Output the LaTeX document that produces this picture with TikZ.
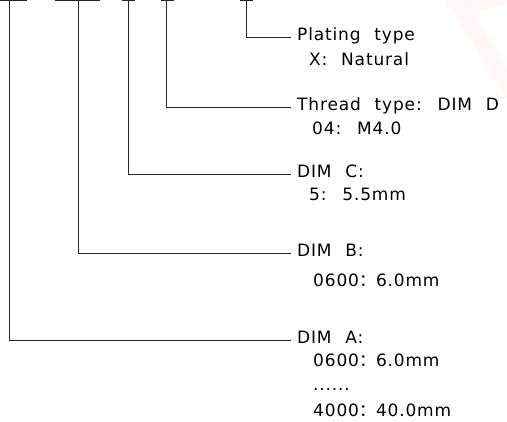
\documentclass[tikz,border=0pt]{standalone}
\usepackage{fontspec}
\setmainfont{DejaVu Sans}[WordSpace=2.2, LetterSpace=5]
\newfontfamily\cjk{Noto Sans CJK SC}
\newcommand{\wcolon}{{\cjk ：}}
\usetikzlibrary{positioning}

\begin{document}
\begin{tikzpicture}[x=1pt, y=-1pt,
  lead/.style={draw=black!85, line width=0.9pt},
  head/.style={anchor=west, inner sep=0pt, font=\fontsize{17}{19}\selectfont,
               text height=0.9em, text depth=0.2em},
  detail/.style={head}
]
  \useasboundingbox (0,0) rectangle (507,422);
  % faint watermark
  \fill[red!3] (446,0) -- (507,0) -- (507,5) -- (473,12) -- (507,68) -- (507,100) -- cycle;

  % part number bars
  \draw[lead] (0,0.5) -- (27,0.5);
  \draw[lead] (55,0.5) -- (100,0.5);
  \draw[lead] (122,0.5) -- (135,0.5);
  \draw[lead] (161,0.5) -- (174,0.5);
  \draw[lead] (240,0.5) -- (253,0.5);
  \coordinate (pA) at (9,0.5);
  \coordinate (pB) at (78,0.5);
  \coordinate (pC) at (128,0.5);
  \coordinate (pD) at (166,0.5);
  \coordinate (pX) at (246,0.5);

  % labels
  \node[head] (plate) at (297,37) {Plating type};
  \node[detail] (plate1) at (309,62) {X: Natural};
  \node[head] (thread) at (297,107) {Thread type: DIM D};
  \node[detail] (thread1) at (312,131) {04: M4.0};
  \node[head] (dimC) at (297,174) {DIM C:};
  \node[detail] (dimC1) at (309,197) {5: 5.5mm};
  \node[head] (dimB) at (297,253) {DIM B:};
  \node[detail] (dimB1) at (313,283) {0600\wcolon6.0mm};
  \node[head] (dimA) at (297,340) {DIM A:};
  \node[detail] (dimA1) at (313,363) {0600\wcolon6.0mm};
  \node[detail] (dimA2) at (313,387) {......};
  \node[detail] (dimA3) at (313,413) {4000\wcolon40.0mm};

  % leaders
  \draw[lead, shorten >=6pt] (pX) |- (plate.west);
  \draw[lead, shorten >=6pt] (pD) |- (thread.west);
  \draw[lead, shorten >=6pt] (pC) |- (dimC.west);
  \draw[lead, shorten >=6pt] (pB) |- (dimB.west);
  \draw[lead, shorten >=6pt] (pA) |- (dimA.west);
\end{tikzpicture}
\end{document}
